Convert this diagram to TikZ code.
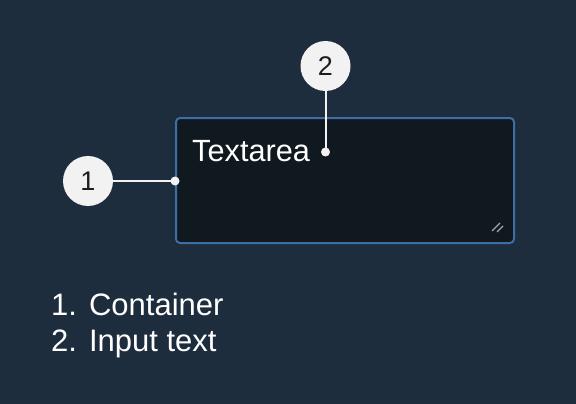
\documentclass[tikz,border=0pt]{standalone}
\usepackage{fontspec}
\setmainfont{Liberation Sans}
\definecolor{bg}{HTML}{1E2D3D}
\definecolor{boxfill}{HTML}{101820}
\definecolor{boxedge}{HTML}{3D6FA5}
\definecolor{badge}{HTML}{F2F2F2}
\definecolor{badgetext}{HTML}{1E1E1E}
\definecolor{leader}{HTML}{F2F2F2}
\tikzset{
  badgenode/.style={circle, fill=badge, minimum size=50pt, inner sep=0pt, text=badgetext, font=\fontsize{27}{30}\selectfont},
  leaderline/.style={draw=leader, line width=2pt},
  leaderdot/.style={circle, fill=leader, minimum size=9pt, inner sep=0pt},
  legendtext/.style={anchor=base west, inner sep=0pt, text=white, font=\fontsize{31}{36}\selectfont},
}
\begin{document}
\begin{tikzpicture}[x=1pt,y=-1pt]
\fill[bg] (0,0) rectangle (576,404);
\useasboundingbox (0,0) rectangle (576,404);
% container
\node[draw=boxedge, fill=boxfill, line width=2pt, rounded corners=4pt, minimum width=338pt, minimum height=125pt, inner sep=0pt, anchor=north west] (box) at (175,117) {};
% resize handle
\draw[color=gray!70, line width=1.3pt] (492,231) coordinate (h1) -- (500,223) coordinate (h2);
\draw[color=gray!70, line width=1.3pt] (497,232) coordinate (h3) -- (503,226) coordinate (h4);
% text
\node[anchor=base west, inner sep=0pt, text=white, font=\fontsize{30.7}{36}\selectfont] (txt) at (192,161.8) {Textarea};
% badges
\node[badgenode] (b1) at (88,181) {1};
\node[badgenode] (b2) at (325.5,66) {2};
\node[leaderdot] (d1) at (175,181) {};
\node[leaderdot] (d2) at (325.5,152) {};
\draw[leaderline] (b1.east) -- (d1.center);
\draw[leaderline] (b2.south) -- (d2.center);
% legend
\node[legendtext] (l1) at (51,315.5) {1.\hspace{12pt}Container};
\node[legendtext] (l2) at (51,351.5) {2.\hspace{12pt}Input text};
\end{tikzpicture}
\end{document}
